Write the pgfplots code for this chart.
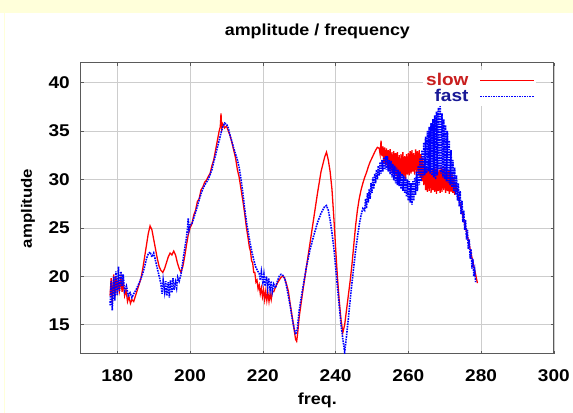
\documentclass[border=0pt]{standalone}
\usepackage{pgfplots}
\pgfplotsset{compat=1.18}
\usepackage{fontspec}
\setmainfont{Liberation Sans}[FakeStretch=1.12]

\definecolor{bgyellow}{RGB}{255,255,218}
\definecolor{gridgray}{RGB}{205,205,205}
\definecolor{framegray}{RGB}{90,90,90}
\definecolor{slowtext}{RGB}{200,30,30}
\definecolor{fasttext}{RGB}{25,25,150}

\begin{document}
\begin{tikzpicture}
% page background with the yellowish strip at the top
\fill[white] (0,0) rectangle (573bp,413bp);
\fill[bgyellow] (0,400bp) rectangle (573bp,413bp);
\fill[bgyellow] (4.5bp,0) rectangle (5.5bp,400bp);

\begin{axis}[
  at={(81bp,59bp)}, anchor=south west,
  scale only axis,
  width=473bp, height=291bp,
  xmin=170, xmax=300,
  ymin=12, ymax=42,
  xtick={180,200,...,300},
  ytick={15,20,...,40},
  grid=major,
  major grid style={gridgray, line width=0.6pt},
  axis line style={framegray, line width=1pt},
  tick align=inside,
  major tick length=3bp,
  tick style={framegray, line width=0.6pt},
  /pgf/number format/assume math mode=true,
  tick label style={font=\fontsize{17bp}{20bp}\selectfont\bfseries},
  xticklabel style={anchor=base, yshift=-28bp},
  yticklabel style={anchor=east, inner sep=0pt, xshift=-11bp},
  title={amplitude / frequency},
  title style={font=\fontsize{16bp}{19bp}\selectfont\bfseries,
    at={(axis description cs:0.5,1.0756)}, anchor=base},
  xlabel={freq.},
  xlabel style={font=\fontsize{16bp}{19bp}\selectfont\bfseries,
    at={(axis description cs:0.5,-0.175)}, anchor=base},
  ylabel={amplitude},
  ylabel style={font=\fontsize{15bp}{18bp}\selectfont\bfseries,
    at={(axis description cs:-0.112,0.5)}, anchor=center},
  legend plot pos=right,
  legend cell align=right,
  legend style={at={(axis description cs:0.962,0.975)}, anchor=north east,
    draw=none, fill=white, inner sep=1bp, row sep=-2bp,
    font=\fontsize{17bp}{19bp}\selectfont\bfseries},
  legend image code/.code={\path (0bp,0bp);
    \draw[#1, line width=0.8pt] (9bp,0bp) -- (63bp,0bp);},
]

% slow
\addplot[red, line width=1.3pt] coordinates {
(178.0,18.0) (178.3,19.8) (178.6,17.2) (179.0,20.2) (179.3,17.8) (179.6,20.0)
(180.0,18.2) (180.3,19.9) (180.6,18.6) (181.0,19.8) (181.3,18.4) (181.6,19.4)
(182.0,18.0) (182.4,18.6) (182.8,17.4) (183.2,17.9) (183.6,17.2) (184.0,17.6)
(184.5,17.4) (185.0,18.0) (185.5,18.6) (186.0,19.2) (186.5,19.8) (187.0,20.8)
(187.5,22.0) (188.0,23.2) (188.5,24.4) (189.0,25.2) (189.5,24.8) (190.0,23.8)
(190.5,22.8) (191.0,21.8) (191.5,21.0) (192.0,20.6) (192.5,20.4) (193.0,20.8)
(193.5,21.4) (194.0,22.0) (194.5,22.4) (195.0,22.2) (195.5,22.6) (196.0,22.2)
(196.5,21.4) (197.0,20.8) (197.5,20.4) (198.0,21.0) (198.5,22.0) (199.0,23.2)
(199.5,24.3) (200.0,25.0) (200.5,25.4) (201.0,26.3) (201.5,26.8) (202.0,27.7)
(202.5,28.0) (203.0,28.9) (203.5,29.2) (204.0,29.7) (204.5,29.9) (205.0,30.3)
(205.5,30.6) (206.0,31.4) (206.5,32.0) (207.0,33.0) (207.5,34.0) (208.0,35.0)
(208.3,35.4) (208.5,36.8) (208.7,35.2) (209.0,35.7) (209.5,35.3) (210.0,35.5)
(210.5,35.0) (211.0,34.5) (211.5,33.8) (212.0,33.0) (212.5,32.2) (213.0,31.0)
(213.5,30.2) (214.0,29.0) (214.5,27.8) (215.0,26.5) (215.5,25.0) (216.0,23.8)
(216.3,23.0) (216.6,22.6) (216.9,21.6) (217.2,21.4) (217.5,20.4) (217.8,20.4)
(218.1,19.4) (218.4,19.6) (218.7,18.7) (219.0,19.1) (219.3,18.2) (219.6,18.8)
(219.9,17.9) (220.2,18.6) (220.5,17.6) (220.8,18.5) (221.1,17.5) (221.4,18.3)
(221.7,17.4) (222.0,18.2) (222.3,17.6) (222.6,18.4) (223.0,18.4) (223.5,18.9)
(224.0,19.3) (224.5,19.6) (225.0,19.9) (225.5,20.0) (226.0,19.8) (226.5,19.2)
(227.0,18.5) (227.5,17.2) (228.0,16.0) (228.5,14.8) (229.0,13.5) (229.3,13.3)
(229.6,14.2) (230.0,15.8) (231.0,18.5) (232.0,21.0) (233.0,23.5) (234.0,26.0)
(235.0,28.5) (236.0,30.8) (237.0,32.3) (237.5,32.8) (238.0,32.0) (238.5,30.8)
(239.0,29.0) (239.5,26.2) (240.0,23.0) (240.5,20.0) (241.0,17.5) (241.5,15.5)
(242.0,14.2) (242.5,15.0) (243.0,16.5) (243.5,18.0) (244.0,19.5) (244.5,21.2)
(245.0,23.2) (245.5,25.2) (246.0,26.8) (246.5,28.0) (247.0,28.9) (247.5,29.6)
(248.0,30.2) (248.5,30.7) (249.0,31.3) (249.5,31.8) (250.0,32.2) (250.5,32.6)
(251.0,33.0) (251.5,33.3)
(252.00,33.2) (252.25,32.6) (252.50,34.0) (252.75,32.4) (253.00,33.4) (253.25,31.6)
(253.50,33.3) (253.75,31.5) (254.00,33.2) (254.25,31.2) (254.50,33.0) (254.75,31.0)
(255.00,33.1) (255.25,30.8) (255.50,32.8) (255.75,30.6) (256.00,32.9) (256.25,30.4)
(256.50,32.7) (256.75,30.3) (257.00,32.8) (257.25,30.2) (257.50,32.5) (257.75,30.0)
(258.00,32.6) (258.25,30.4) (258.50,32.8) (258.75,30.2) (259.00,32.4) (259.25,30.0)
(259.50,32.6) (259.75,30.5) (260.00,32.7) (260.25,30.4) (260.50,32.9) (260.75,30.6)
(261.00,33.0) (261.25,30.8) (261.50,32.7) (261.75,30.5) (262.00,33.1) (262.25,30.7)
(262.50,32.9) (262.75,30.4) (263.00,33.0) (263.25,30.2) (263.50,32.6) (263.75,29.8)
(264.00,32.2) (264.25,29.4) (264.50,31.6) (264.75,28.9) (265.00,31.3) (265.25,28.7)
(265.50,31.2) (265.75,28.8) (266.00,31.4) (266.25,28.6) (266.50,31.0) (266.75,28.9)
(267.00,31.3) (267.25,28.7) (267.50,31.1) (267.75,28.5) (268.00,31.2) (268.25,28.8)
(268.50,31.0) (268.75,28.6) (269.00,31.3) (269.25,28.7) (269.50,31.1) (269.75,28.9)
(270.00,31.2) (270.25,28.6) (270.50,31.0) (270.75,28.8) (271.00,30.9) (271.25,28.5)
(271.50,31.0) (271.75,28.7) (272.00,30.6) (272.25,28.6) (272.50,30.2) (272.75,28.4)
(273.00,29.4) (274.0,27.8) (275.0,26.2) (276.0,24.6) (277.0,22.8) (278.0,21.0)
(278.5,20.2) (279.0,19.3)
};
\addlegendentry{\textcolor{slowtext}{slow}}

% fast
\addplot[blue, densely dotted, line width=1.6pt] coordinates {
(178.0,17.0) (178.3,19.5) (178.6,16.5) (179.0,20.0) (179.3,17.5) (179.6,20.5)
(180.0,18.0) (180.3,21.0) (180.6,18.5) (181.0,20.5) (181.3,19.0) (181.6,20.2)
(182.0,18.5) (182.5,19.0) (183.0,18.0) (183.5,18.3) (184.0,17.8) (184.5,18.2)
(185.0,18.5) (185.5,18.9) (186.0,19.3) (186.5,19.8) (187.0,20.3) (187.5,21.0)
(188.0,21.8) (188.5,22.3) (189.0,22.5) (189.5,22.0) (190.0,22.4) (190.5,21.6)
(191.0,20.8) (191.5,20.0) (192.0,19.2) (192.3,18.2) (192.6,19.6) (193.0,18.4)
(193.3,19.5) (193.6,18.0) (194.0,19.4) (194.3,17.8) (194.6,19.6) (195.0,18.3)
(195.3,19.8) (195.6,18.6) (196.0,19.4) (196.3,18.8) (196.6,19.9) (197.0,19.5)
(197.5,20.2) (198.0,21.5) (198.5,22.8) (199.0,24.0) (199.3,25.0) (199.5,26.0)
(199.7,24.8) (200.0,25.3) (200.5,25.4) (201.0,26.0) (201.5,26.6) (202.0,27.2)
(202.5,27.9) (203.0,28.5) (203.5,29.0) (204.0,29.4) (204.5,29.7) (205.0,30.0)
(205.5,30.5) (206.0,31.0) (206.5,31.8) (207.0,32.5) (207.5,33.3) (208.0,34.0)
(208.5,34.8) (209.0,35.4) (209.5,35.8) (210.0,35.7) (210.5,35.3) (211.0,34.5)
(211.5,33.9) (212.0,33.2) (212.5,32.6) (213.0,32.0) (213.5,31.2) (214.0,30.0)
(214.5,28.6) (215.0,27.0) (215.5,25.6) (216.0,24.5) (216.5,23.4) (217.0,22.5)
(217.5,21.7) (218.0,21.0) (218.5,20.6) (219.0,20.3) (219.3,19.6) (219.6,20.5)
(220.0,19.4) (220.3,20.2) (220.6,19.0) (221.0,20.0) (221.3,18.8) (221.6,19.8)
(222.0,18.6) (222.3,19.5) (222.6,18.4) (223.0,19.2) (223.5,18.8) (224.0,19.5)
(224.5,20.0) (225.0,20.2) (225.5,20.1) (226.0,19.8) (226.5,19.0) (227.0,18.0)
(227.5,17.0) (228.0,15.8) (228.5,14.8) (229.0,14.0) (229.5,14.6) (230.0,16.5)
(231.0,18.8) (232.0,21.0) (233.0,22.8) (234.0,24.2) (235.0,25.5) (236.0,26.5)
(237.0,27.2) (237.5,27.3) (238.0,26.8) (238.5,25.8) (239.0,24.5) (239.5,23.0)
(240.0,21.0) (240.5,19.0) (241.0,17.0) (241.5,15.0) (242.0,13.5) (242.5,12.2)
(243.0,13.8) (243.5,15.6) (244.0,17.5) (244.5,19.3) (245.0,21.0) (245.5,22.6)
(246.0,24.0) (246.5,25.3) (247.0,26.3) (247.5,27.0)
(248.00,26.8) (248.25,28.0) (248.50,27.0) (248.75,28.6) (249.00,27.6) (249.25,29.0)
(249.50,28.0) (249.75,29.6) (250.00,28.6) (250.25,30.2) (250.50,29.0) (250.75,30.6)
(251.00,29.6) (251.25,31.0) (251.50,30.0) (251.75,31.4) (252.00,30.4) (252.25,31.8)
(252.50,30.6) (252.75,32.0) (253.00,30.8) (253.25,32.2) (253.50,31.0) (253.75,32.4)
(254.00,31.0) (254.25,32.4) (254.50,30.8) (254.75,32.0) (255.00,30.5) (255.25,31.9)
(255.50,30.2) (255.75,31.6) (256.00,29.9) (256.25,31.4) (256.50,29.6) (256.75,31.2)
(257.00,29.4) (257.25,31.0) (257.50,29.3) (257.75,30.8) (258.00,29.0) (258.25,30.6)
(258.50,28.8) (258.75,30.4) (259.00,28.6) (259.25,30.2) (259.50,28.2) (259.75,30.0)
(260.00,27.8) (260.25,29.8) (260.50,27.6) (260.75,29.6) (261.00,27.4) (261.25,29.8)
(261.50,27.8) (261.75,30.2) (262.00,28.4) (262.25,30.8) (262.50,28.8) (262.75,31.4)
(263.00,29.4) (263.25,32.2) (263.50,29.8) (263.75,33.0) (264.00,30.2) (264.25,33.8)
(264.50,30.4) (264.75,34.4) (265.00,30.6) (265.25,35.0) (265.50,30.8) (265.75,35.4)
(266.00,30.6) (266.25,35.8) (266.50,30.4) (266.75,36.2) (267.00,30.2) (267.25,36.6)
(267.50,30.0) (267.75,37.0) (268.00,30.4) (268.25,37.4) (268.50,31.0) (268.75,37.8)
(269.00,30.6) (269.25,36.8) (269.50,30.2) (269.75,36.2) (270.00,30.0) (270.25,35.6)
(270.50,29.8) (270.75,35.0) (271.00,29.6) (271.25,34.0) (271.50,29.4) (271.75,33.0)
(272.00,29.2) (272.25,32.0) (272.50,28.8) (272.75,31.2) (273.00,28.4) (273.25,30.4)
(273.50,27.8) (273.75,29.6) (274.00,27.2) (274.25,28.8) (274.50,26.4) (274.75,27.8)
(275.00,25.6) (275.25,26.8) (275.50,24.8) (275.75,25.8) (276.00,23.8) (276.25,24.8)
(276.50,22.8) (276.75,23.8) (277.00,21.8) (277.25,22.8) (277.50,20.8) (277.75,21.8)
(278.00,20.0) (278.25,20.6) (278.50,19.4)
};
\addlegendentry{\textcolor{fasttext}{fast}}

\end{axis}
\end{tikzpicture}
\end{document}
